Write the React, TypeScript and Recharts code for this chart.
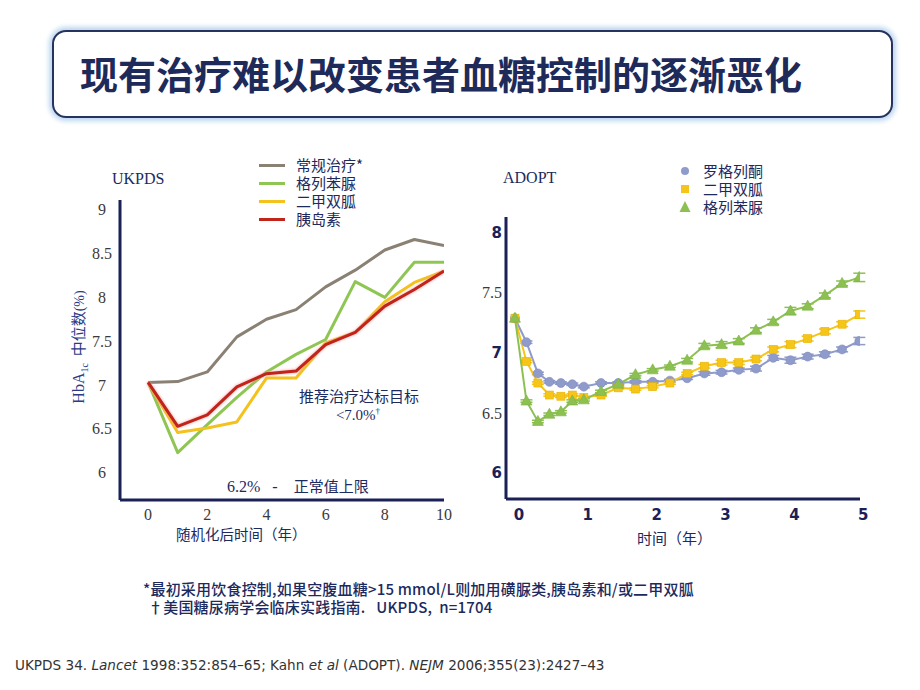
import React from 'react';
import { LineChart, Line, XAxis, YAxis, Legend, ErrorBar } from 'recharts';

// ---------- UKPDS (left) ----------
const ukpdsYears = [0, 1, 2, 3, 4, 5, 6, 7, 8, 9, 10];
const conventional = [7.03, 7.04, 7.15, 7.55, 7.75, 7.86, 8.12, 8.31, 8.54, 8.66, 8.59];
const glibenclamideUK = [7.03, 6.23, 6.55, 6.86, 7.15, 7.35, 7.52, 8.18, 8.0, 8.4, 8.4];
const metforminUK = [7.03, 6.46, 6.51, 6.58, 7.08, 7.08, 7.48, 7.6, 7.95, 8.17, 8.3];
const insulinUK = [7.03, 6.53, 6.66, 6.98, 7.13, 7.16, 7.46, 7.6, 7.9, 8.09, 8.3];
const ukpdsXTicks = [0, 2, 4, 6, 8, 10];
const ukpdsYTicks = [6, 6.5, 7, 7.5, 8, 8.5, 9];
const ukpdsNames = ['常规治疗*', '格列苯脲', '二甲双胍', '胰岛素'];
const ukpdsKeys = ['conv', 'gli', 'met', 'ins'];
const ukpdsColors = ['#8a8174', '#8fc653', '#f4c21c', '#c0241b'];

// ---------- ADOPT (right) ----------
const adoptYears = [0, 0.167, 0.333, 0.5, 0.667, 0.833, 1, 1.25, 1.5, 1.75, 2, 2.25, 2.5, 2.75, 3, 3.25, 3.5, 3.75, 4, 4.25, 4.5, 4.75, 5];
const rosiglitazone = [7.29, 7.09, 6.83, 6.76, 6.75, 6.74, 6.72, 6.75, 6.75, 6.76, 6.76, 6.77, 6.79, 6.83, 6.84, 6.86, 6.87, 6.96, 6.94, 6.97, 6.99, 7.03, 7.1];
const metforminAD = [7.29, 6.93, 6.75, 6.65, 6.64, 6.65, 6.63, 6.65, 6.71, 6.7, 6.72, 6.75, 6.83, 6.89, 6.92, 6.92, 6.95, 7.03, 7.07, 7.12, 7.18, 7.24, 7.32];
const glyburideAD = [7.29, 6.6, 6.43, 6.49, 6.51, 6.6, 6.61, 6.68, 6.74, 6.82, 6.86, 6.89, 6.94, 7.06, 7.07, 7.1, 7.19, 7.26, 7.35, 7.39, 7.48, 7.58, 7.63];
const rosiErr = [0, 0.01, 0.01, 0.01, 0.01, 0.01, 0.01, 0.01, 0.01, 0.01, 0.01, 0.01, 0.01, 0.015, 0.015, 0.015, 0.02, 0.02, 0.025, 0.02, 0.02, 0.02, 0.03];
const metErr = [0, 0.01, 0.01, 0.01, 0.01, 0.01, 0.01, 0.01, 0.01, 0.01, 0.01, 0.01, 0.01, 0.015, 0.02, 0.015, 0.015, 0.02, 0.025, 0.02, 0.02, 0.02, 0.03];
const glyErr = [0, 0.01, 0.01, 0.01, 0.01, 0.01, 0.01, 0.01, 0.01, 0.01, 0.01, 0.01, 0.015, 0.02, 0.025, 0.02, 0.02, 0.02, 0.03, 0.02, 0.02, 0.02, 0.035];
const adoptXTicks = [0, 1, 2, 3, 4, 5];
const adoptYTicks = [6, 6.5, 7, 7.5, 8];
const adoptNames = ['罗格列酮', '二甲双胍', '格列苯脲'];
const adoptColors = ['#8f9bcb', '#f5c51a', '#8cc152'];

const ukpdsData = ukpdsYears.map((y, i) => ({
  year: y,
  conv: conventional[i],
  gli: glibenclamideUK[i],
  met: metforminUK[i],
  ins: insulinUK[i],
}));

const adoptData = adoptYears.map((t, i) => ({
  t,
  rosi: rosiglitazone[i],
  rosiErr: rosiErr[i],
  met: metforminAD[i],
  metErr: metErr[i],
  gly: glyburideAD[i],
  glyErr: glyErr[i],
}));

const NAVY = '#1c2a5e';
const AXIS = '#1b2157';
const CJK = "'Noto Sans CJK SC', 'Noto Sans', sans-serif";
const SERIF = "'Liberation Serif', 'DejaVu Serif', serif";
const BOLDSANS = "'DejaVu Sans', Verdana, sans-serif";

const LeftYTick = (p: any) => (
  <text x={p.x - 18} y={p.y} textAnchor="middle" dominantBaseline="central" fontFamily={SERIF} fontSize={16} fill="#3a3a3a">
    {p.payload.value}
  </text>
);
const LeftXTick = (p: any) => (
  <text x={p.x} y={p.y + 14} textAnchor="middle" dominantBaseline="central" fontFamily={SERIF} fontSize={16} fill="#3a3a3a">
    {p.payload.value}
  </text>
);
const RightYTick = (p: any) => {
  const v = p.payload.value;
  const isInt = Number.isInteger(v);
  return (
    <text
      x={p.x - 4}
      y={p.y}
      textAnchor="end"
      dominantBaseline="central"
      fontFamily={isInt ? BOLDSANS : SERIF}
      fontWeight={isInt ? 700 : 400}
      fontSize={isInt ? 15 : 16}
      fill={isInt ? AXIS : '#3a3a3a'}
    >
      {v}
    </text>
  );
};
const RightXTick = (p: any) => (
  <text x={p.x + 4} y={p.y + 16} textAnchor="middle" dominantBaseline="central" fontFamily={BOLDSANS} fontWeight={700} fontSize={15} fill={AXIS}>
    {p.payload.value}
  </text>
);

const CircleDot = (p: any) => {
  if (p.cx == null || p.cy == null) return <g key={`c${p.index}`} />;
  return <circle key={`c${p.index}`} cx={p.cx} cy={p.cy} r={4.5} fill={adoptColors[0]} stroke="#7f8cc0" strokeWidth={0.6} />;
};
const SquareDot = (p: any) => {
  if (p.cx == null || p.cy == null) return <g key={`s${p.index}`} />;
  return <rect key={`s${p.index}`} x={p.cx - 4} y={p.cy - 4} width={8} height={8} fill={adoptColors[1]} stroke="#e9b300" strokeWidth={0.6} />;
};
const TriDot = (p: any) => {
  if (p.cx == null || p.cy == null) return <g key={`t${p.index}`} />;
  const { cx, cy } = p;
  return (
    <polygon
      key={`t${p.index}`}
      points={`${cx},${cy - 6} ${cx - 5.5},${cy + 4} ${cx + 5.5},${cy + 4}`}
      fill={adoptColors[2]}
      stroke="#7bb243"
      strokeWidth={0.6}
    />
  );
};
const dotRenderers = [CircleDot, SquareDot, TriDot];

const UkpdsLegend = () => (
  <div style={{ fontFamily: CJK, fontSize: 15, color: NAVY, lineHeight: '18px' }}>
    {ukpdsNames.map((n, i) => (
      <div key={n} style={{ display: 'flex', alignItems: 'center', height: 18 }}>
        <span style={{ display: 'inline-block', width: 26, height: 3, background: ukpdsColors[i], marginRight: 11 }} />
        <span>{n}</span>
      </div>
    ))}
  </div>
);

const AdoptLegend = () => (
  <div style={{ fontFamily: CJK, fontSize: 15, color: NAVY, lineHeight: '18px' }}>
    {adoptNames.map((n, i) => (
      <div key={n} style={{ display: 'flex', alignItems: 'center', height: 18 }}>
        <svg width={14} height={14} style={{ marginRight: 11 }}>
          {i === 0 && <circle cx={7} cy={7} r={4} fill={adoptColors[0]} />}
          {i === 1 && <rect x={3} y={3} width={8} height={8} fill={adoptColors[1]} />}
          {i === 2 && <polygon points="7,1 1.5,12 12.5,12" fill={adoptColors[2]} />}
        </svg>
        <span>{n}</span>
      </div>
    ))}
  </div>
);

const pre = { whiteSpace: 'pre' as const };

export default function App() {
  return (
    <div style={{ position: 'absolute', left: 0, top: 0, width: 920, height: 690, background: '#fff', overflow: 'hidden' }}>
      {/* Title box */}
      <div
        style={{
          position: 'absolute',
          left: 52,
          top: 30,
          width: 837,
          height: 84,
          border: '2px solid #27335f',
          borderRadius: 14,
          boxShadow: '0 0 5px 3px #bcd6ef',
          background: '#fff',
        }}
      />
      <div
        style={{
          position: 'absolute',
          left: 80,
          top: 48,
          fontFamily: CJK,
          fontWeight: 700,
          fontSize: 38,
          color: '#1e2a5a',
          lineHeight: '50px',
          whiteSpace: 'nowrap',
        }}
      >
        现有治疗难以改变患者血糖控制的逐渐恶化
      </div>

      {/* Left chart: UKPDS */}
      <div style={{ position: 'absolute', left: 0, top: 0 }}>
        <LineChart width={920} height={690} data={ukpdsData} margin={{ top: 200, left: 80, right: 476, bottom: 160 }}>
          <XAxis
            dataKey="year"
            type="number"
            domain={[-0.95, 10]}
            ticks={ukpdsXTicks}
            allowDataOverflow
            height={30}
            tickSize={0}
            tickMargin={0}
            tickLine={false}
            axisLine={{ stroke: AXIS, strokeWidth: 3 }}
            tick={<LeftXTick />}
          />
          <YAxis
            type="number"
            domain={[5.69, 9.11]}
            ticks={ukpdsYTicks}
            allowDataOverflow
            width={40}
            tickSize={0}
            tickMargin={0}
            tickLine={false}
            axisLine={{ stroke: AXIS, strokeWidth: 3 }}
            tick={<LeftYTick />}
          />
          {ukpdsKeys.map((k, i) => (
            <Line
              key={k}
              dataKey={k}
              name={ukpdsNames[i]}
              type="linear"
              stroke={ukpdsColors[i]}
              strokeWidth={3}
              strokeLinejoin="round"
              dot={false}
              style={k === 'ins' ? { filter: 'drop-shadow(0 0 1.5px #f59a9a)' } : undefined}
              isAnimationActive={false}
            />
          ))}
          <Legend
            layout="horizontal"
            verticalAlign="middle"
            align="center"
            wrapperStyle={{ left: 259, top: 156, width: 140 }}
            content={<UkpdsLegend />}
          />
        </LineChart>
      </div>

      {/* Right chart: ADOPT */}
      <div style={{ position: 'absolute', left: 0, top: 0 }}>
        <LineChart width={920} height={690} data={adoptData} margin={{ top: 217, left: 466, right: 60, bottom: 161 }}>
          <XAxis
            dataKey="t"
            type="number"
            domain={[-0.13, 5.01]}
            ticks={adoptXTicks}
            allowDataOverflow
            height={30}
            tickSize={0}
            tickMargin={0}
            tickLine={false}
            axisLine={{ stroke: AXIS, strokeWidth: 3 }}
            tick={<RightXTick />}
          />
          <YAxis
            type="number"
            domain={[5.784, 8.133]}
            ticks={adoptYTicks}
            allowDataOverflow
            width={40}
            tickSize={0}
            tickMargin={0}
            tickLine={false}
            axisLine={{ stroke: AXIS, strokeWidth: 3 }}
            tick={<RightYTick />}
          />
          {[
            ['rosi', 'rosiErr'],
            ['met', 'metErr'],
            ['gly', 'glyErr'],
          ].map(([k, e], i) => (
            <Line
              key={k}
              dataKey={k}
              name={adoptNames[i]}
              type="linear"
              stroke={adoptColors[i]}
              strokeWidth={2}
              dot={dotRenderers[i]}
              isAnimationActive={false}
            >
              <ErrorBar dataKey={e} direction="y" width={6} strokeWidth={1.5} stroke={adoptColors[i]} isAnimationActive={false} />
            </Line>
          ))}
          <Legend
            layout="horizontal"
            verticalAlign="middle"
            align="center"
            wrapperStyle={{ left: 678, top: 162, width: 120 }}
            content={<AdoptLegend />}
          />
        </LineChart>
      </div>

      {/* Text overlay */}
      <svg width={920} height={690} style={{ position: 'absolute', left: 0, top: 0, pointerEvents: 'none' }}>
        <text x={112} y={178} dominantBaseline="central" fontFamily={SERIF} fontSize={16} fill={NAVY}>UKPDS</text>
        <text x={503} y={177} dominantBaseline="central" fontFamily={SERIF} fontSize={16} fill={NAVY}>ADOPT</text>

        {/* left y axis title */}
        <text transform="translate(84,347) rotate(-90)" textAnchor="middle" fill="#2b3b86" style={pre}>
          <tspan fontFamily={SERIF} fontSize={16}>HbA</tspan>
          <tspan fontFamily={SERIF} fontSize={10} dy={4}>1c</tspan>
          <tspan fontFamily={CJK} fontSize={15} dy={-4}>{'  中位数'}</tspan>
          <tspan fontFamily={SERIF} fontSize={14}>(%)</tspan>
        </text>

        <text x={359} y={402} textAnchor="middle" fontFamily={CJK} fontSize={15} fill={NAVY}>推荐治疗达标目标</text>
        <text x={358} y={420} textAnchor="middle" fontFamily={SERIF} fontSize={15} fill={NAVY} style={pre}>
          {'<7.0%'}
          <tspan fontSize={9} dy={-6}>†</tspan>
        </text>
        <text x={227} y={492} fill={NAVY} style={pre}>
          <tspan fontFamily={SERIF} fontSize={16}>{'6.2%   -    '}</tspan>
          <tspan fontFamily={CJK} fontSize={15}>正常值上限</tspan>
        </text>

        <text x={176} y={533} dominantBaseline="central" fontFamily={CJK} fontSize={14.5} fill={NAVY}>随机化后时间（年）</text>
        <text x={637} y={537} dominantBaseline="central" fontFamily={CJK} fontSize={15} fill={NAVY}>时间（年）</text>

        <text x={143} y={595} fontFamily={CJK} fontSize={15} fontWeight={500} letterSpacing={0.2} fill={NAVY} style={pre}>
          *最初采用饮食控制,如果空腹血糖&gt;15 mmol/L则加用磺脲类,胰岛素和/或二甲双胍
        </text>
        <text x={148} y={613} fontFamily={CJK} fontSize={15} fontWeight={500} letterSpacing={0.2} fill={NAVY} style={pre}>
          {'†美国糖尿病学会临床实践指南.   UKPDS,  n=1704'}
        </text>

        <text x={15} y={665} dominantBaseline="central" fontFamily={BOLDSANS} fontSize={13.6} fill="#333">
          {'UKPDS 34. '}
          <tspan fontStyle="italic">Lancet</tspan>
          {' 1998:352:854–65; Kahn '}
          <tspan fontStyle="italic">et al</tspan>
          {' (ADOPT). '}
          <tspan fontStyle="italic">NEJM</tspan>
          {' 2006;355(23):2427–43'}
        </text>
      </svg>
    </div>
  );
}
